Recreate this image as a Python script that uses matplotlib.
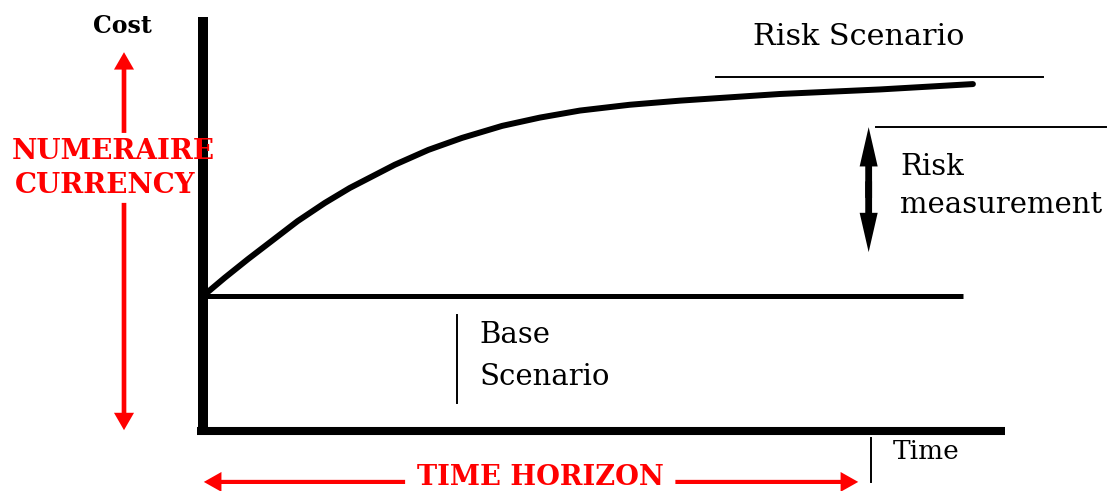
import matplotlib
matplotlib.use("Agg")
import matplotlib.pyplot as plt

# cost curve of the risk scenario (time, cost in diagram units)
time = [0, 0.27, 0.56, 0.87, 1.18, 1.52, 1.83, 2.14, 2.39, 2.81, 3.23,
        3.73, 4.20, 4.70, 5.32, 5.95, 7.19, 8.44, 9.60]
risk_cost = [3.26, 3.70, 4.15, 4.61, 5.07, 5.51, 5.87, 6.18, 6.43, 6.79,
             7.08, 7.37, 7.57, 7.74, 7.88, 7.98, 8.14, 8.25, 8.38]

# base scenario: flat cost
base_cost = 3.26
base_end = 9.48

# reference levels
risk_level = 8.55
measure_top = 7.34
measure_bottom = 4.32
measure_x = 8.30

SERIF = ["DejaVu Serif"]
RED = "#ff0000"


def arrow(ax, x0, y0, x1, y1, w, hw, hl, color):
    ax.arrow(x0, y0, x1 - x0, y1 - y0, width=w, head_width=hw, head_length=hl,
             length_includes_head=True, color=color, lw=0, clip_on=False)


fig = plt.figure(figsize=(11.09, 4.91), dpi=100)
ax = fig.add_axes([203 / 1109, 60 / 491, 802 / 1109, 414 / 491])
ax.set_xlim(0, 10)
ax.set_ylim(0, 10)
ax.axis("off")

# axes
ax.plot([0, 0], [-0.1, 10], color="black", lw=7.2, solid_capstyle="butt", clip_on=False)
ax.plot([-0.07, 10], [0, 0], color="black", lw=5.8, solid_capstyle="butt", clip_on=False)

# scenarios
ax.plot(time, risk_cost, color="black", lw=4.3, solid_capstyle="round",
        solid_joinstyle="round", clip_on=False)
ax.plot([0, base_end], [base_cost, base_cost], color="black", lw=3.6,
        solid_capstyle="butt", clip_on=False)

# thin guide lines
ax.plot([6.40, 10.47], [risk_level, risk_level], color="black", lw=1.4, clip_on=False)
ax.plot([8.39, 11.26], [measure_top, measure_top], color="black", lw=1.4, clip_on=False)
ax.plot([3.17, 3.17], [0.68, 2.80], color="black", lw=1.4, clip_on=False)
ax.plot([8.33, 8.33], [-0.17, -1.23], color="black", lw=1.4, clip_on=False)

# risk measurement double arrow
mid = (measure_top + measure_bottom) / 2
arrow(ax, measure_x, mid - 0.2, measure_x, measure_top, 0.085, 0.225, 0.95, "black")
arrow(ax, measure_x, mid + 0.2, measure_x, measure_bottom, 0.085, 0.225, 0.95, "black")

# red arrows: currency (vertical) and time horizon (horizontal)
arrow(ax, -0.985, 7.20, -0.985, 9.15, 0.058, 0.25, 0.42, RED)
arrow(ax, -0.985, 5.51, -0.985, 0.02, 0.058, 0.25, 0.42, RED)
arrow(ax, 2.52, -1.23, 0.01, -1.23, 0.1, 0.48, 0.22, RED)
arrow(ax, 5.89, -1.23, 8.17, -1.23, 0.1, 0.48, 0.22, RED)

# labels
ax.text(-1.0, 9.61, "Cost", ha="center", va="baseline", fontsize=17,
        fontweight="bold", family=SERIF)
ax.text(-2.38, 6.57, "NUMERAIRE", ha="left", va="baseline", fontsize=20,
        fontweight="bold", color=RED, family=SERIF)
ax.text(-2.34, 5.75, "CURRENCY", ha="left", va="baseline", fontsize=20,
        fontweight="bold", color=RED, family=SERIF)
ax.text(6.86, 9.32, "Risk Scenario", ha="left", va="baseline", fontsize=21.8,
        family=SERIF)
ax.text(8.69, 6.18, "Risk", ha="left", va="baseline", fontsize=21,
        family=SERIF)
ax.text(8.69, 5.27, "measurement", ha="left", va="baseline", fontsize=21,
        family=SERIF)
ax.text(3.45, 2.13, "Base", ha="left", va="baseline", fontsize=21,
        family=SERIF)
ax.text(3.45, 1.11, "Scenario", ha="left", va="baseline", fontsize=21,
        family=SERIF)
ax.text(8.60, -0.68, "Time", ha="left", va="baseline", fontsize=19,
        family=SERIF)
ax.text(2.67, -1.30, "TIME HORIZON", ha="left", va="baseline", fontsize=19.6,
        fontweight="bold", color=RED, family=SERIF)

fig.savefig("out.png", dpi=100)
